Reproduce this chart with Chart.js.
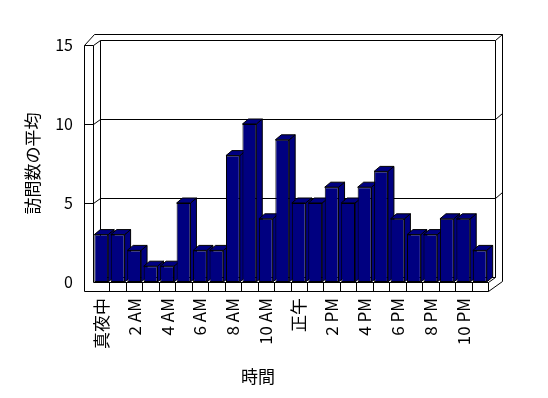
<!DOCTYPE html>
<html>
<head>
<meta charset="utf-8">
<script src="https://cdn.jsdelivr.net/npm/chart.js@4"></script>
<style>
  html, body { margin: 0; padding: 0; background: #fff; }
</style>
</head>
<body>
<canvas id="chart" width="548" height="398"></canvas>
<script>
// hours of the day, one bar per hour
const categories = ['真夜中', '1 AM', '2 AM', '3 AM', '4 AM', '5 AM', '6 AM', '7 AM', '8 AM', '9 AM', '10 AM', '11 AM',
  '正午', '1 PM', '2 PM', '3 PM', '4 PM', '5 PM', '6 PM', '7 PM', '8 PM', '9 PM', '10 PM', '11 PM'];
const visits = [3, 3, 2, 1, 1, 5, 2, 2, 8, 10, 4, 9, 5, 5, 6, 5, 6, 7, 4, 3, 3, 4, 4, 2];
const yTicks = [0, 5, 10, 15];
const xTitle = '時間';
const yTitle = '訪問数の平均';

const FONT = '"Noto Sans CJK JP", "Liberation Sans", sans-serif';
const NAVY = '#000080';

// depth of the 3d box (front plane -> back wall) and of the bars
const DX = 7, DY = 5;
const BAR_DX = 6, BAR_DY = 5;
const WALL = 9;

function line(ctx, pts) {
  ctx.beginPath();
  ctx.moveTo(Math.round(pts[0][0]) + 0.5, Math.round(pts[0][1]) + 0.5);
  for (let i = 1; i < pts.length; i++) ctx.lineTo(Math.round(pts[i][0]) + 0.5, Math.round(pts[i][1]) + 0.5);
  ctx.stroke();
}

function poly(ctx, pts) {
  ctx.beginPath();
  ctx.moveTo(pts[0][0], pts[0][1]);
  for (let i = 1; i < pts.length; i++) ctx.lineTo(pts[i][0], pts[i][1]);
  ctx.closePath();
  ctx.fill();
  ctx.stroke();
}

const whiteBg = {
  id: 'whiteBg',
  beforeDraw(chart) {
    const ctx = chart.ctx;
    ctx.save();
    ctx.fillStyle = '#fff';
    ctx.fillRect(0, 0, chart.width, chart.height);
    ctx.restore();
  }
};

const box3d = {
  id: 'box3d',
  beforeDatasetsDraw(chart) {
    const {ctx, chartArea: a, scales: {x, y}} = chart;
    const L = a.left, R = a.right;
    const T = y.getPixelForValue(yTicks[yTicks.length - 1]);
    const B = y.getPixelForValue(0);
    ctx.save();
    ctx.strokeStyle = '#000';
    ctx.lineWidth = 1;

    // left wall front face
    line(ctx, [[L - WALL, B + WALL], [L - WALL, T], [L, T], [L, B]]);
    // top edges
    line(ctx, [[L - WALL, T], [L + 1, T - DY - 6], [R + DX + 7, T - DY - 6], [R + DX + 7, B - 1]]);
    line(ctx, [[L, T], [L + DX, T - DY], [R + DX, T - DY], [R + DX + 7, T - DY - 6]]);
    // back wall edges
    line(ctx, [[L + DX, T - DY], [L + DX, B - DY], [R + DX, B - DY], [R + DX, T - DY]]);
    // floor
    line(ctx, [[L - WALL, B + WALL], [R, B + WALL], [R + DX + 7, B - 1]]);
    line(ctx, [[L, B], [R, B], [R, B + WALL]]);
    line(ctx, [[R, B], [R + DX, B - DY]]);
    for (let i = 1; i < categories.length; i++) {
      const px = x.getPixelForValue(i - 0.5);
      line(ctx, [[px, B], [px, B + WALL]]);
    }
    // gridlines on walls
    yTicks.slice(1, -1).forEach(v => {
      const py = y.getPixelForValue(v);
      line(ctx, [[L - WALL, py], [L, py], [L + DX, py - DY], [R + DX, py - DY], [R + DX + 7, py - DY - 6]]);
    });

    // bar sides and tops; fronts are drawn by Chart.js afterwards
    ctx.fillStyle = NAVY;
    chart.getDatasetMeta(0).data.forEach(bar => {
      const l = bar.x - bar.width / 2, r = bar.x + bar.width / 2;
      poly(ctx, [[r, bar.y], [r + BAR_DX, bar.y - BAR_DY], [r + BAR_DX, bar.base - BAR_DY], [r, bar.base]]);
      poly(ctx, [[l, bar.y], [l + BAR_DX, bar.y - BAR_DY], [r + BAR_DX, bar.y - BAR_DY], [r, bar.y]]);
    });
    ctx.restore();
  },
  afterDraw(chart) {
    const ctx = chart.ctx;
    ctx.save();
    ctx.fillStyle = '#000';
    ctx.font = '17px ' + FONT;
    ctx.textAlign = 'center';
    ctx.textBaseline = 'middle';
    ctx.fillText(xTitle, 258, 377);
    ctx.restore();
  }
};

new Chart(document.getElementById('chart'), {
  type: 'bar',
  data: {
    labels: categories,
    datasets: [{
      data: visits,
      backgroundColor: NAVY,
      borderColor: '#000',
      borderWidth: 1,
      borderSkipped: false,
      categoryPercentage: 1,
      barPercentage: 0.84
    }]
  },
  options: {
    responsive: false,
    animation: false,
    layout: { padding: { top: 45, right: 60, bottom: 0, left: 0 } },
    plugins: { legend: { display: false }, tooltip: { enabled: false } },
    scales: {
      x: {
        grid: { display: false, drawTicks: false },
        border: { display: false },
        ticks: {
          autoSkip: false,
          maxRotation: 90,
          minRotation: 90,
          padding: 16,
          color: '#000',
          font: { family: FONT, size: 17 },
          callback: (v, i) => (i % 2 === 0 ? categories[i] : '')
        },
        afterFit: s => { s.height = 116; }
      },
      y: {
        min: 0,
        max: 15,
        grid: { display: false, drawTicks: false },
        border: { display: false },
        ticks: {
          stepSize: 5,
          padding: 20,
          color: '#000',
          font: { family: FONT, size: 16 }
        },
        title: {
          display: true,
          text: yTitle,
          color: '#000',
          font: { family: FONT, size: 17 },
          padding: { top: 22, bottom: 0 }
        },
        afterFit: s => { s.width = 93; }
      }
    }
  },
  plugins: [whiteBg, box3d]
});
</script>
</body>
</html>
